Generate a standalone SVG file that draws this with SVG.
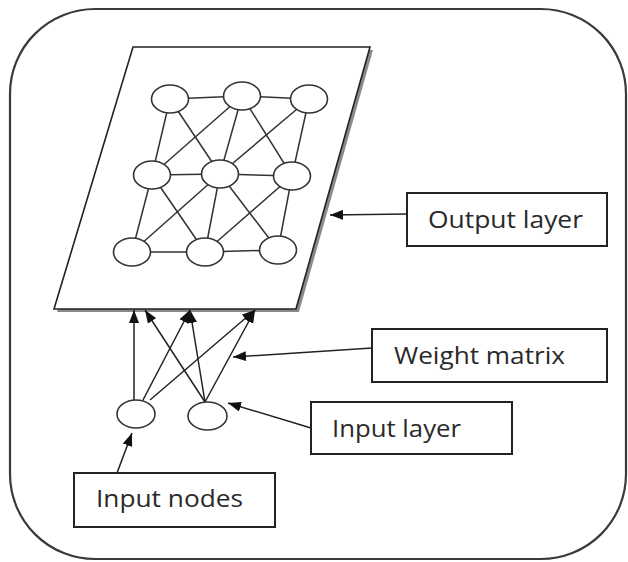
<svg xmlns="http://www.w3.org/2000/svg" width="628" height="562" viewBox="0 0 628 562">
<style>
.frame{fill:#fff;stroke:#3a3a3a;stroke-width:2.2}
.plane{fill:#fff;stroke:#222;stroke-width:1.6}
.shadow{fill:#8a8a8a;stroke:none}
.node{fill:#fff;stroke:#333;stroke-width:1.6}
.edge{stroke:#333;stroke-width:1.5;fill:none}
.arrow{stroke:#222;stroke-width:1.5;fill:none;marker-end:url(#ah)}
.box{fill:#fff;stroke:#222;stroke-width:2}
.lbl{font-family:"Open Sans","Liberation Sans",sans-serif;font-size:24px;fill:#2a2a2a}
</style>
<defs>
<marker id="ah" viewBox="0 0 13 10" refX="13" refY="5" markerWidth="13" markerHeight="10" markerUnits="userSpaceOnUse" orient="auto">
<path d="M0,0 L13,5 L0,10 z" fill="#111"/>
</marker>
</defs>
<rect width="628" height="562" fill="#fff"/>
<g id="frame">
<rect class="frame" x="10" y="9" width="616" height="550" rx="85" ry="85"/>
</g>
<g id="output-plane">
<polygon class="shadow" points="136,50 373,50 299,312 57,312"/>
<polygon class="plane" points="133,47 370,47 296,309 54,309"/>
</g>
<g id="connectors">
<g id="grid-edges">
<line class="edge" x1="170" y1="99" x2="242" y2="96"/>
<line class="edge" x1="242" y1="96" x2="309" y2="99"/>
<line class="edge" x1="152" y1="175" x2="220" y2="174"/>
<line class="edge" x1="220" y1="174" x2="292" y2="176"/>
<line class="edge" x1="132" y1="252" x2="205" y2="252"/>
<line class="edge" x1="205" y1="252" x2="278" y2="250"/>
<line class="edge" x1="170" y1="99" x2="152" y2="175"/>
<line class="edge" x1="242" y1="96" x2="220" y2="174"/>
<line class="edge" x1="309" y1="99" x2="292" y2="176"/>
<line class="edge" x1="152" y1="175" x2="132" y2="252"/>
<line class="edge" x1="220" y1="174" x2="205" y2="252"/>
<line class="edge" x1="292" y1="176" x2="278" y2="250"/>
<line class="edge" x1="170" y1="99" x2="220" y2="174"/>
<line class="edge" x1="242" y1="96" x2="152" y2="175"/>
<line class="edge" x1="242" y1="96" x2="292" y2="176"/>
<line class="edge" x1="309" y1="99" x2="220" y2="174"/>
<line class="edge" x1="152" y1="175" x2="205" y2="252"/>
<line class="edge" x1="220" y1="174" x2="132" y2="252"/>
<line class="edge" x1="220" y1="174" x2="278" y2="250"/>
<line class="edge" x1="292" y1="176" x2="205" y2="252"/>
</g>
<g id="weight-arrows">
<line class="arrow" x1="134" y1="400" x2="134" y2="310"/>
<line class="arrow" x1="143" y1="400" x2="190" y2="310"/>
<line class="arrow" x1="150" y1="400" x2="255" y2="310"/>
<line class="arrow" x1="205" y1="402" x2="145" y2="310"/>
<line class="arrow" x1="205" y1="402" x2="190" y2="310"/>
<line class="arrow" x1="205" y1="402" x2="255" y2="310"/>
</g>
<g id="label-arrows">
<line class="arrow" x1="407" y1="214" x2="330" y2="215"/>
<line class="arrow" x1="372" y1="348" x2="233" y2="357"/>
<line class="arrow" x1="311" y1="428" x2="228" y2="403"/>
<line class="arrow" x1="117" y1="473" x2="132" y2="433"/>
</g>
</g>
<g id="grid-nodes">
<ellipse class="node" cx="170" cy="99" rx="18.5" ry="14"/>
<ellipse class="node" cx="242" cy="96" rx="18.5" ry="14"/>
<ellipse class="node" cx="309" cy="99" rx="18.5" ry="14"/>
<ellipse class="node" cx="152" cy="175" rx="18.5" ry="14"/>
<ellipse class="node" cx="220" cy="174" rx="18.5" ry="14"/>
<ellipse class="node" cx="292" cy="176" rx="18.5" ry="14"/>
<ellipse class="node" cx="132" cy="252" rx="18.5" ry="14"/>
<ellipse class="node" cx="205" cy="252" rx="18.5" ry="14"/>
<ellipse class="node" cx="278" cy="250" rx="18.5" ry="14"/>
</g>
<g id="input-node-1"><ellipse class="node" cx="136" cy="414" rx="19" ry="14"/></g>
<g id="input-node-2"><ellipse class="node" cx="207.5" cy="416" rx="19.5" ry="14"/></g>
<g id="output-layer-label">
<rect class="box" x="407" y="193" width="200" height="53"/>
<text class="lbl" x="428" y="228" textLength="155" lengthAdjust="spacingAndGlyphs">Output layer</text>
</g>
<g id="weight-matrix-label">
<rect class="box" x="372" y="329" width="235" height="53"/>
<text class="lbl" x="394" y="364" textLength="171" lengthAdjust="spacingAndGlyphs">Weight matrix</text>
</g>
<g id="input-layer-label">
<rect class="box" x="311" y="402" width="201" height="52"/>
<text class="lbl" x="332" y="437" textLength="129" lengthAdjust="spacingAndGlyphs">Input layer</text>
</g>
<g id="input-nodes-label">
<rect class="box" x="74" y="473" width="201" height="54"/>
<text class="lbl" x="96" y="507" textLength="147" lengthAdjust="spacingAndGlyphs">Input nodes</text>
</g>
</svg>
